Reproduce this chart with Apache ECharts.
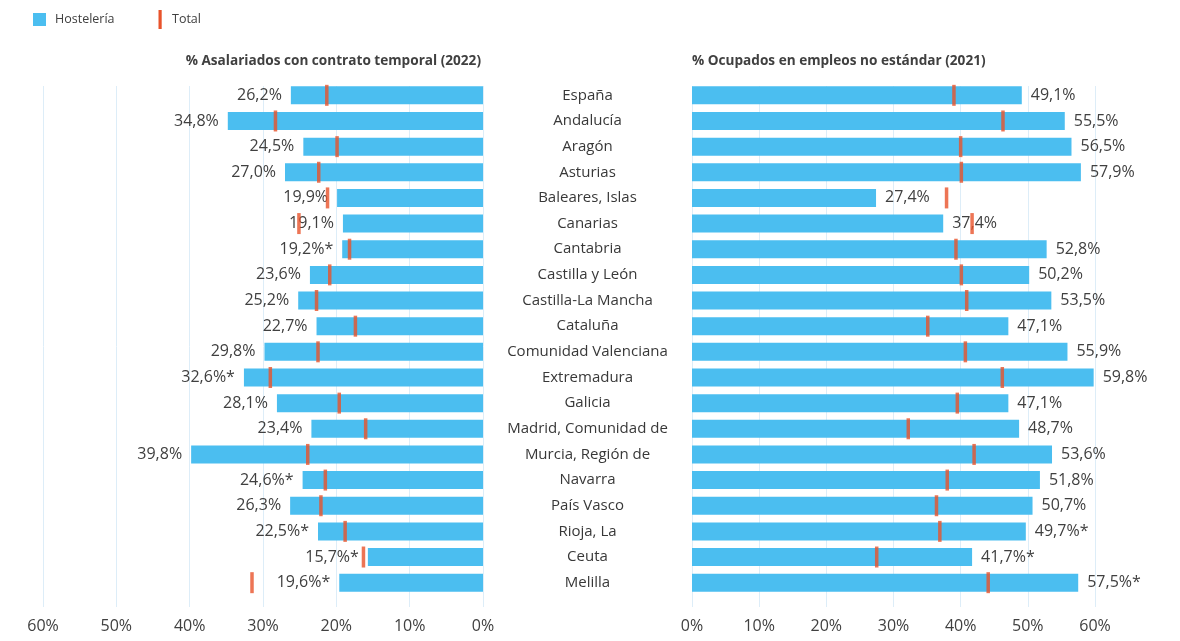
<!DOCTYPE html>
<html>
<head>
<meta charset="utf-8">
<script src="https://cdn.jsdelivr.net/npm/echarts@6/dist/echarts.min.js"></script>
<style>
html,body{margin:0;padding:0;background:#fff;}
#chart{width:1180px;height:641px;}
</style>
</head>
<body>
<div id="chart"></div>
<script>
const categories = ["España","Andalucía","Aragón","Asturias","Baleares, Islas","Canarias","Cantabria","Castilla y León","Castilla-La Mancha","Cataluña","Comunidad Valenciana","Extremadura","Galicia","Madrid, Comunidad de","Murcia, Región de","Navarra","País Vasco","Rioja, La","Ceuta","Melilla"];
// % Asalariados con contrato temporal (2022)
const tempHosteleria = [26.2,34.8,24.5,27.0,19.9,19.1,19.2,23.6,25.2,22.7,29.8,32.6,28.1,23.4,39.8,24.6,26.3,22.5,15.7,19.6];
const tempTotal      = [21.3,28.3,19.9,22.4,21.2,25.1,18.2,20.9,22.7,17.4,22.5,29.0,19.6,16.0,23.9,21.5,22.1,18.8,16.3,31.5];
const tempNote       = ["","","","","","","*","","","","","*","","","","*","","*","*","*"];
// % Ocupados en empleos no estándar (2021)
const noStdHosteleria = [49.1,55.5,56.5,57.9,27.4,37.4,52.8,50.2,53.5,47.1,55.9,59.8,47.1,48.7,53.6,51.8,50.7,49.7,41.7,57.5];
const noStdTotal      = [39.0,46.3,40.0,40.1,37.9,41.7,39.3,40.1,40.9,35.1,40.7,46.2,39.5,32.2,42.0,38.0,36.4,36.9,27.5,44.1];
const noStdNote       = ["","","","","","","","","","","","","","","","","","*","*","*"];
const axisTicks = [0,10,20,30,40,50,60];

const FONT = "'Open Sans', 'Noto Sans', sans-serif";
const BLUE = '#4BBEF0';
const RED = '#E8532B';
const TXT = '#404040';

function fmt(v, note){ return v.toFixed(1).replace('.', ',') + '%' + note; }

const chart = echarts.init(document.getElementById('chart'));
const gridAxis = (idx, inverse) => ({
  gridIndex: idx, type: 'value', min: axisTicks[0], max: axisTicks[axisTicks.length-1], interval: 10, inverse: inverse,
  axisLine: {show:false}, axisTick: {show:false},
  splitLine: {show:true, lineStyle:{color:'#DDEDF8', width:1}},
  axisLabel: {formatter: '{value}%', fontSize: 16, color: TXT, fontFamily: FONT, margin: 11}
});
const option = {
  animation: false,
  textStyle: {fontFamily: FONT},
  grid: [
    {left: 43, top: 82.5, width: 440, height: 513},
    {left: 692, top: 82.5, width: 403, height: 513},
    {left: 43, top: 86, width: 440, height: 521},
    {left: 692, top: 86, width: 403, height: 521}
  ],
  xAxis: [
    {gridIndex:0, type:'value', min:0, max:60, inverse:true, show:false},
    {gridIndex:1, type:'value', min:0, max:60, show:false},
    gridAxis(2, true),
    gridAxis(3, false)
  ],
  yAxis: [
    {gridIndex:0, type:'category', data: categories, inverse:true, show:false},
    {gridIndex:1, type:'category', data: categories, inverse:true,
      axisLine:{show:false}, axisTick:{show:false},
      axisLabel:{align:'center', margin:104.5, fontSize:15, color:'#383838', fontFamily: FONT}},
    {gridIndex:2, type:'value', min:0, max:1, show:false},
    {gridIndex:3, type:'value', min:0, max:1, show:false}
  ],
  graphic: [
    {type:'rect', shape:{x:33, y:13, width:13, height:13}, style:{fill: BLUE}},
    {type:'text', x:55, y:19.5, style:{text:'Hostelería', fill: TXT, font: '12.5px ' + FONT, verticalAlign:'middle'}},
    {type:'rect', shape:{x:158.5, y:10, width:3.2, height:19}, style:{fill: RED}},
    {type:'text', x:172, y:19.5, style:{text:'Total', fill: TXT, font: '12.5px ' + FONT, verticalAlign:'middle'}},
    {type:'text', x:481, y:61, style:{text:'% Asalariados con contrato temporal (2022)', fill: TXT, font: 'bold 13.6px ' + FONT, align:'right', verticalAlign:'middle'}},
    {type:'text', x:692, y:61, style:{text:'% Ocupados en empleos no estándar (2021)', fill: TXT, font: 'bold 13.6px ' + FONT, align:'left', verticalAlign:'middle'}}
  ],
  series: [
    {name:'Hostelería', type:'bar', xAxisIndex:0, yAxisIndex:0, data: tempHosteleria, barWidth: 18,
      itemStyle:{color: BLUE},
      label:{show:true, position:'left', distance:9, fontSize:16, color: TXT, fontFamily: FONT,
        formatter: p => fmt(tempHosteleria[p.dataIndex], tempNote[p.dataIndex])}},
    {name:'Total', type:'scatter', xAxisIndex:0, yAxisIndex:0, data: tempTotal, symbol:'rect', symbolSize:[3.5, 21],
      itemStyle:{color: RED}, z: 5},
    {name:'Hostelería', type:'bar', xAxisIndex:1, yAxisIndex:1, data: noStdHosteleria, barWidth: 18,
      itemStyle:{color: BLUE},
      label:{show:true, position:'right', distance:9, fontSize:16, color: TXT, fontFamily: FONT,
        formatter: p => fmt(noStdHosteleria[p.dataIndex], noStdNote[p.dataIndex])}},
    {name:'Total', type:'scatter', xAxisIndex:1, yAxisIndex:1, data: noStdTotal, symbol:'rect', symbolSize:[3.5, 21],
      itemStyle:{color: RED}, z: 5}
  ]
};
chart.setOption(option);
</script>
</body>
</html>
